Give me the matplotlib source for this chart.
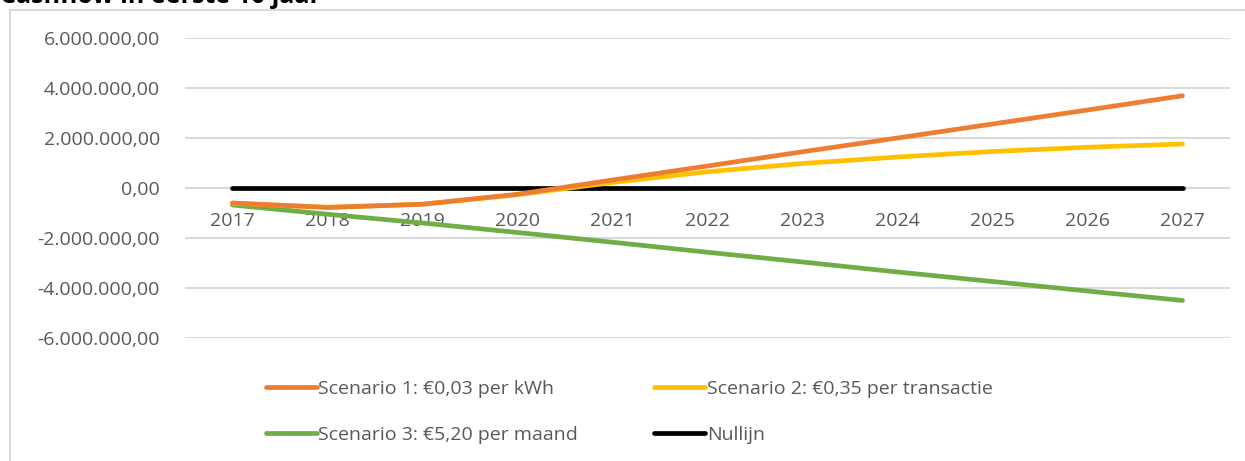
import matplotlib
matplotlib.use("Agg")
import matplotlib.pyplot as plt
from matplotlib.ticker import FuncFormatter
from matplotlib.lines import Line2D

# Cashflow per year (euro)
years = ["2017", "2018", "2019", "2020", "2021", "2022", "2023", "2024", "2025", "2026", "2027"]
scenario1 = [-600000, -780000, -650000, -250000, 320000, 880000, 1450000, 2000000, 2560000, 3120000, 3690000]
scenario2 = [-610000, -770000, -650000, -270000, 220000, 650000, 980000, 1240000, 1460000, 1630000, 1760000]
scenario3 = [-680000, -1050000, -1400000, -1780000, -2170000, -2570000, -2960000, -3360000, -3740000, -4120000, -4500000]
nullijn = [0] * len(years)

labels = ["Scenario 1: €0,03 per kWh", "Scenario 2: €0,35 per transactie",
          "Scenario 3: €5,20 per maand", "Nullijn"]
colors = ["#ED7D31", "#FFC000", "#70AD47", "#000000"]
yticks = [-6000000, -4000000, -2000000, 0, 2000000, 4000000, 6000000]

plt.rcParams["font.family"] = ["Open Sans", "DejaVu Sans"]
TXT = "#595959"
GRID = "#D9D9D9"
LW = 3.4

W, H = 1245, 461
fig = plt.figure(figsize=(W / 100, H / 100), dpi=100)

# chart frame (left and top edges)
fig.add_artist(Line2D([10 / W, 10 / W], [0, 1 - 10 / H], transform=fig.transFigure,
                      color=GRID, lw=1.5))
fig.add_artist(Line2D([10 / W, 1], [1 - 10 / H, 1 - 10 / H], transform=fig.transFigure,
                      color=GRID, lw=1.5))

# title, partly above the top edge
fig.text(0 / W, 1 - 3 / H, "Cashflow in eerste 10 jaar", fontsize=18, fontweight="bold",
         color="black", ha="left", va="baseline")

ax = fig.add_axes([185 / W, 1 - 338 / H, (1230 - 185) / W, 300 / H])
x = list(range(len(years)))
series = [scenario1, scenario2, scenario3, nullijn]
zorders = [6, 5, 4, 3]
handles = []
for i in range(4):
    (ln,) = ax.plot(x, series[i], color=colors[i], lw=LW, solid_capstyle="round",
                    solid_joinstyle="round", zorder=zorders[i])
    handles.append(ln)

ax.set_xlim(-0.5, len(years) - 0.5)
ax.set_ylim(-6000000, 6000000)
ax.set_yticks(yticks)


def eu_fmt(v, pos):
    s = f"{abs(v):,.2f}".replace(",", "X").replace(".", ",").replace("X", ".")
    return ("-" if v < 0 else "") + s


ax.yaxis.set_major_formatter(FuncFormatter(eu_fmt))
ax.grid(axis="y", color=GRID, lw=1.5, zorder=0)
ax.set_axisbelow(True)
for s in ax.spines.values():
    s.set_visible(False)
ax.spines["bottom"].set_position(("data", 0))
ax.set_xticks(x)
ax.set_xticklabels(years)
ax.tick_params(axis="x", length=0, pad=17, labelsize=14, labelcolor=TXT)
ax.tick_params(axis="y", length=0, pad=18, labelsize=14, labelcolor=TXT)

# legend filled row by row: (1, 2) on the first row, (3, Nullijn) on the second
leg_order = [0, 2, 1, 3]
leg = fig.legend([handles[i] for i in leg_order], [labels[i] for i in leg_order],
                 ncol=2, loc="center left",
                 bbox_to_anchor=(266 / W, 1 - 412 / H), frameon=False,
                 fontsize=14, handlelength=2.6, handletextpad=0.1,
                 columnspacing=3.9, labelspacing=1.45, borderpad=0, borderaxespad=0)
for t in leg.get_texts():
    t.set_color(TXT)
for lh in leg.get_lines():
    lh.set_linewidth(LW)
    lh.set_solid_capstyle("round")

fig.savefig("out.png", dpi=100)
